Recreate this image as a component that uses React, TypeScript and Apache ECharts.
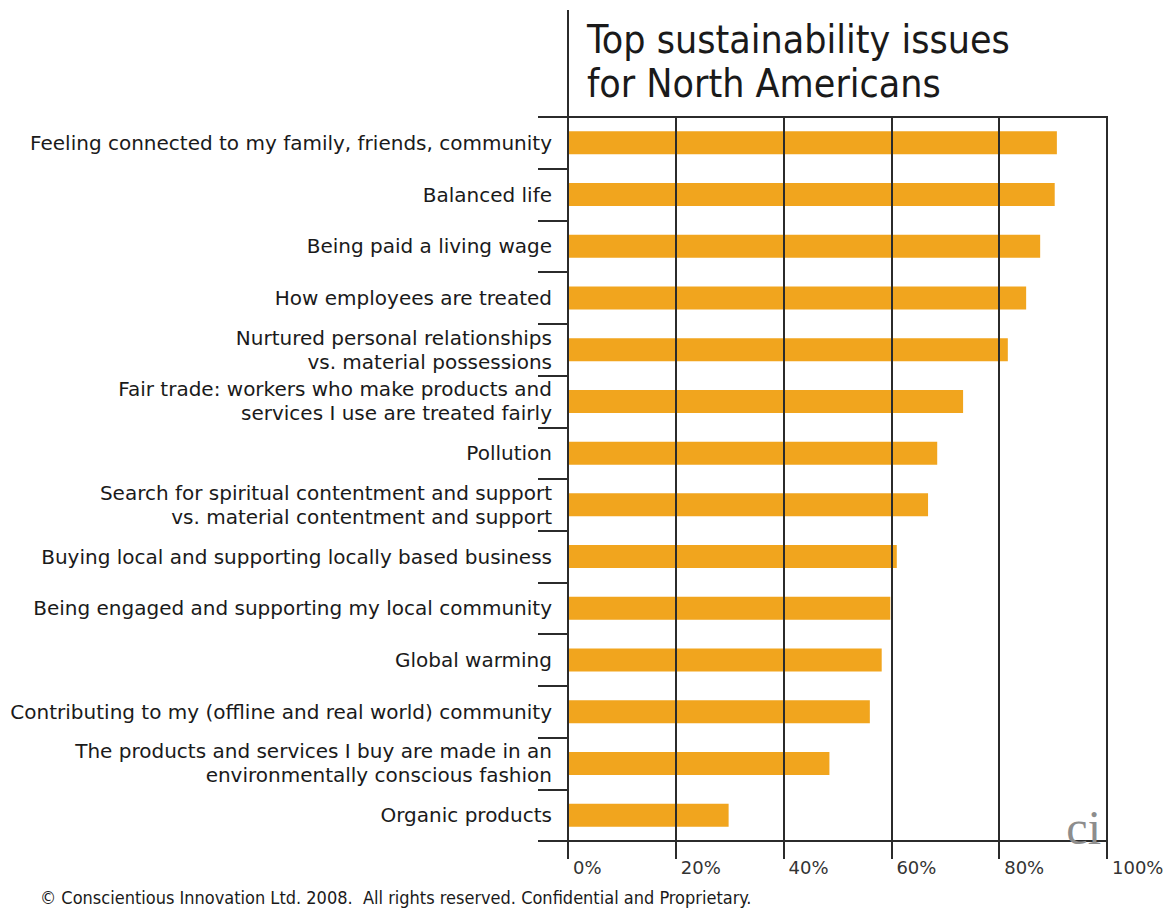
import React, { useEffect, useRef } from 'react';
import * as echarts from 'echarts';

const categories = [
  'Feeling connected to my family, friends, community',
  'Balanced life',
  'Being paid a living wage',
  'How employees are treated',
  'Nurtured personal relationships\nvs. material possessions',
  'Fair trade: workers who make products and\nservices I use are treated fairly',
  'Pollution',
  'Search for spiritual contentment and support\nvs. material contentment and support',
  'Buying local and supporting locally based business',
  'Being engaged and supporting my local community',
  'Global warming',
  'Contributing to my (offline and real world) community',
  'The products and services I buy are made in an\nenvironmentally conscious fashion',
  'Organic products',
];

const values = [90.7, 90.3, 87.6, 85.0, 81.6, 73.3, 68.5, 66.8, 61.0, 59.8, 58.2, 56.0, 48.5, 29.8];

const xTickLabels = ['0%', '20%', '40%', '60%', '80%', '100%'];

const titleText = 'Top sustainability issues\nfor North Americans';
const footerText = '\u00A9 Conscientious Innovation Ltd. 2008.  All rights reserved. Confidential and Proprietary.';
const logoText = 'ci';

const W = 1167;
const H = 919;
const GRID_LEFT = 568;
const GRID_TOP = 117;
const GRID_RIGHT = 60;
const GRID_BOTTOM = 78;

export default function App() {
  const ref = useRef<HTMLDivElement>(null);

  useEffect(() => {
    document.body.style.margin = '0';
    if (!ref.current) return;
    const chart = echarts.init(ref.current, null, { renderer: 'svg' });
    const lineColor = '#2b2b2b';
    const labelFont = '"DejaVu Sans", Verdana, sans-serif';
    const narrowFont = '"Liberation Sans Narrow", "Arial Narrow", "DejaVu Sans Condensed", sans-serif';
    const plotRight = W - GRID_RIGHT;
    const plotBottom = H - GRID_BOTTOM;

    chart.setOption({
      animation: false,
      backgroundColor: '#ffffff',
      title: {
        text: titleText,
        left: 582,
        top: 12,
        textStyle: {
          fontFamily: narrowFont,
          fontSize: 39,
          lineHeight: 44,
          fontWeight: 500,
          color: '#1a1a1a',
        },
      },
      grid: {
        left: GRID_LEFT,
        top: GRID_TOP,
        right: GRID_RIGHT,
        bottom: GRID_BOTTOM,
        show: true,
        borderColor: lineColor,
        borderWidth: 2,
        backgroundColor: 'transparent',
      },
      xAxis: {
        type: 'value',
        min: 0,
        max: 100,
        interval: 20,
        z: 10,
        axisLine: { show: true, lineStyle: { color: lineColor, width: 2 } },
        axisTick: { show: true, length: 18, lineStyle: { color: lineColor, width: 2 } },
        splitLine: { show: true, lineStyle: { color: lineColor, width: 2 } },
        axisLabel: {
          formatter: (v: number) => xTickLabels[Math.round(v / 20)] ?? `${v}%`,
          align: 'left',
          margin: 17,
          padding: [0, 0, 0, 5],
          fontFamily: labelFont,
          fontSize: 18,
          color: '#333333',
        },
      },
      yAxis: {
        type: 'category',
        data: categories,
        inverse: true,
        z: 10,
        axisLine: { show: true, lineStyle: { color: lineColor, width: 2 } },
        axisTick: { show: true, length: 30, lineStyle: { color: lineColor, width: 2 } },
        splitLine: { show: false },
        axisLabel: {
          margin: 16,
          fontFamily: labelFont,
          fontSize: 20,
          lineHeight: 24,
          color: '#1a1a1a',
          align: 'right',
        },
      },
      series: [
        {
          type: 'bar',
          data: values,
          barWidth: 23,
          itemStyle: { color: '#F1A51E' },
          silent: true,
        },
      ],
      graphic: [
        {
          type: 'line',
          shape: { x1: GRID_LEFT, y1: 10, x2: GRID_LEFT, y2: GRID_TOP },
          style: { stroke: lineColor, lineWidth: 2 },
        },
        {
          type: 'text',
          x: plotRight - 6,
          y: plotBottom + 10,
          style: {
            text: logoText,
            fontFamily: '"Liberation Serif", "DejaVu Serif", serif',
            fontSize: 48,
            fill: '#8d8d8d',
            align: 'right',
            verticalAlign: 'bottom',
          },
          z: 20,
        },
        {
          type: 'text',
          x: 40,
          y: 897,
          style: {
            text: footerText,
            fontFamily: narrowFont,
            fontSize: 18,
            fill: '#1a1a1a',
            align: 'left',
            verticalAlign: 'middle',
          },
        },
      ],
    });

    return () => {
      chart.dispose();
    };
  }, []);

  return <div ref={ref} style={{ width: W, height: H }} />;
}
